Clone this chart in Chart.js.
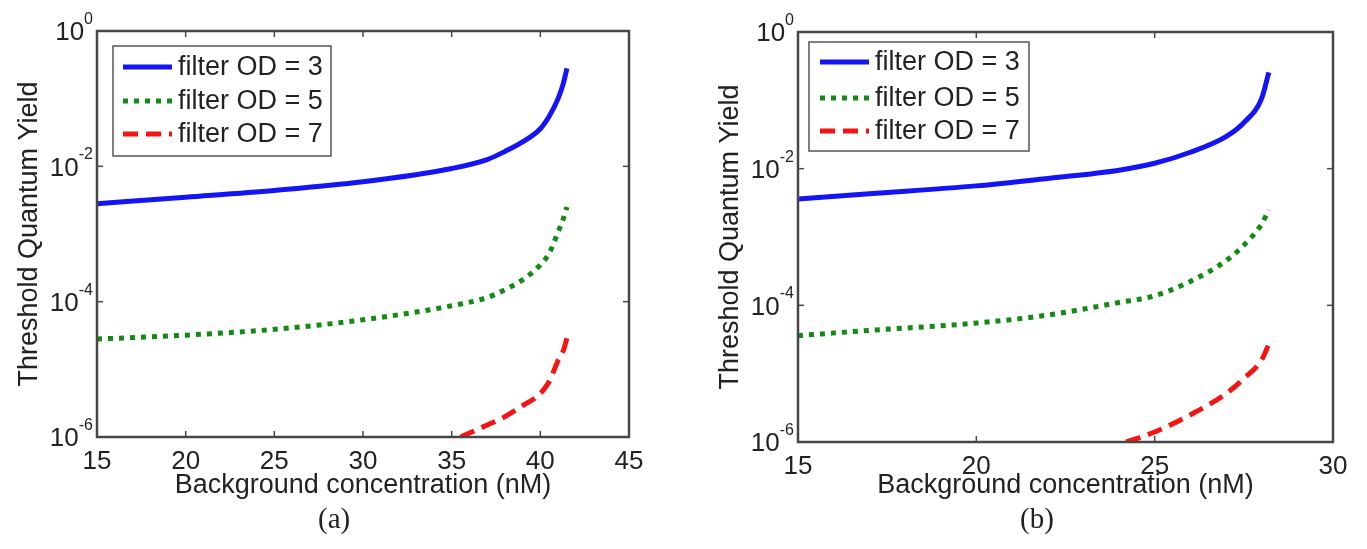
<!DOCTYPE html>
<html>
<head>
<meta charset="utf-8">
<script src="https://cdn.jsdelivr.net/npm/chart.js@4.4.0/dist/chart.umd.min.js"></script>
<style>
  body { margin: 0; background: #fff; width: 1367px; height: 549px; overflow: hidden; position: relative; }
  .panel { position: absolute; top: 0; height: 549px; }
  .cap { position: absolute; top: 502px; font-family: "Liberation Serif", "Times New Roman", serif; font-size: 29px; color: #222; }
</style>
</head>
<body>
<div class="panel" style="left:0;width:680px"><canvas id="chartA" width="680" height="549"></canvas></div>
<div class="panel" style="left:683px;width:684px"><canvas id="chartB" width="684" height="549"></canvas></div>
<div class="cap" style="left:318px">(a)</div>
<div class="cap" style="left:1020px">(b)</div>
<script>
// panel (a)
const xA = [15, 20, 25, 30, 35, 37, 38, 39, 40, 40.5, 41, 41.3, 41.5];
const od3A = [2.8e-3, 3.5e-3, 4.4e-3, 5.9e-3, 9.3e-3, 1.26e-2, 1.66e-2, 2.3e-2, 3.6e-2, 5.5e-2, 0.10, 0.17, 0.28];
const od5A = [2.8e-5, 3.2e-5, 3.9e-5, 5.4e-5, 8.7e-5, 1.15e-4, 1.5e-4, 2.1e-4, 3.5e-4, 5.2e-4, 1.07e-3, 1.7e-3, 2.5e-3];
const xRedA = [35.5, 37, 38, 39, 40, 40.5, 41, 41.3, 41.5];
const od7A = [1.0e-6, 1.5e-6, 2.0e-6, 2.9e-6, 4.4e-6, 6.6e-6, 1.35e-5, 1.9e-5, 2.9e-5];

// panel (b)
const xB = [15, 17, 20, 22, 24, 25, 26, 27, 27.5, 28, 28.2];
const od3B = [3.6e-3, 4.3e-3, 5.6e-3, 7.2e-3, 9.5e-3, 1.2e-2, 1.74e-2, 2.95e-2, 4.7e-2, 0.107, 0.257];
const od5B = [3.6e-5, 4.3e-5, 5.5e-5, 7.2e-5, 1.1e-4, 1.38e-4, 2.24e-4, 4.5e-4, 7.6e-4, 1.55e-3, 2.5e-3];
const xRedB = [24.2, 25, 26, 27, 27.5, 28, 28.2];
const od7B = [1.0e-6, 1.4e-6, 2.5e-6, 5.1e-6, 8.5e-6, 1.6e-5, 2.7e-5];

const yTicks = [1e-6, 1e-4, 1e-2, 1];
const yExponents = ["-6", "-4", "-2", "0"];
const legendLabels = ["filter OD = 3", "filter OD = 5", "filter OD = 7"];

const FONT = '"Liberation Sans", Arial, sans-serif';
const INK = "#222";

function pts(xs, ys) {
  return xs.map((x, i) => ({ x: x, y: ys[i] }));
}

// box, inward ticks, 10^n labels and in-plot legend, MATLAB style
const framePlugin = {
  id: "frame",
  afterDraw(chart, args, o) {
    const { ctx, chartArea: a, scales } = chart;
    const line = (x0, y0, x1, y1) => { ctx.beginPath(); ctx.moveTo(x0, y0); ctx.lineTo(x1, y1); ctx.stroke(); };
    ctx.save();
    ctx.strokeStyle = "#474747";
    ctx.lineWidth = 1.5;
    scales.x.ticks.forEach((t) => {
      const px = scales.x.getPixelForValue(t.value);
      line(px, a.bottom, px, a.bottom - 6);
      line(px, a.top, px, a.top + 6);
    });
    scales.y.ticks.forEach((t) => {
      const py = scales.y.getPixelForValue(t.value);
      line(a.left, py, a.left + 6, py);
      line(a.right, py, a.right - 6, py);
    });
    ctx.lineWidth = 2.5;
    ctx.strokeRect(a.left, a.top, a.right - a.left, a.bottom - a.top);

    // y tick labels with superscript exponents
    ctx.fillStyle = INK;
    ctx.textAlign = "left";
    yTicks.forEach((v, i) => {
      const py = scales.y.getPixelForValue(v);
      ctx.font = "16px " + FONT;
      const ew = ctx.measureText(yExponents[i]).width;
      ctx.font = "26px " + FONT;
      const bw = ctx.measureText("10").width;
      const xr = a.left - 4;
      ctx.textBaseline = "middle";
      ctx.fillText("10", xr - ew - bw, py + 2);
      ctx.font = "16px " + FONT;
      ctx.textBaseline = "alphabetic";
      ctx.fillText(yExponents[i], xr - ew, py - 7);
    });

    // legend
    const L = a.left + o.left, T = a.top + o.top;
    ctx.fillStyle = "#fff";
    ctx.fillRect(L, T, o.width, o.height);
    ctx.strokeStyle = "#555";
    ctx.lineWidth = 1.5;
    ctx.strokeRect(L, T, o.width, o.height);
    ctx.font = "27px " + FONT;
    ctx.textBaseline = "middle";
    chart.data.datasets.forEach((ds, i) => {
      const ry = T + o.rows[i];
      ctx.strokeStyle = ds.borderColor;
      ctx.lineWidth = ds.borderWidth;
      ctx.setLineDash(ds.borderDash || []);
      line(L + o.s0, ry, L + o.s1, ry);
      ctx.setLineDash([]);
      ctx.fillStyle = INK;
      ctx.fillText(ds.label, L + o.tx, ry + 1);
    });
    ctx.restore();
  }
};

function makeChart(id, cfg) {
  new Chart(document.getElementById(id), {
    type: "line",
    data: {
      datasets: [
        { label: legendLabels[0], data: pts(cfg.x, cfg.od3), borderColor: "#1414f5", borderWidth: 5 },
        { label: legendLabels[1], data: pts(cfg.x, cfg.od5), borderColor: "#148a14", borderWidth: 5, borderDash: [5, 6] },
        { label: legendLabels[2], data: pts(cfg.xRed, cfg.od7), borderColor: "#f51414", borderWidth: 5, borderDash: [15, 8] }
      ]
    },
    options: {
      responsive: false,
      animation: false,
      layout: { padding: { left: cfg.padLeft, top: cfg.top, right: cfg.padRight, bottom: 0 } },
      elements: { point: { radius: 0 }, line: { cubicInterpolationMode: "monotone", borderCapStyle: "butt" } },
      plugins: {
        legend: { display: false },
        tooltip: { enabled: false },
        frame: cfg.legend
      },
      scales: {
        x: {
          type: "linear",
          min: cfg.xMin, max: cfg.xMax,
          ticks: { stepSize: 5, color: INK, font: { family: FONT, size: 26 }, padding: 1, maxRotation: 0 },
          grid: { display: false },
          border: { display: false },
          title: { display: true, text: "Background concentration (nM)", color: INK, font: { family: FONT, size: 27 }, padding: { top: 0, bottom: 47 } },
          afterFit: (s) => { s.height = 549 - cfg.bottom; }
        },
        y: {
          type: "logarithmic",
          min: 1e-6, max: 1,
          afterBuildTicks: (s) => { s.ticks = yTicks.map((v) => ({ value: v })); },
          ticks: { display: false },
          grid: { display: false },
          border: { display: false },
          title: { display: true, text: "Threshold Quantum Yield", color: INK, font: { family: FONT, size: 27 }, padding: 0 },
          afterFit: (s) => { s.width = cfg.left - cfg.padLeft; }
        }
      }
    },
    plugins: [framePlugin]
  });
}

makeChart("chartA", {
  x: xA, od3: od3A, od5: od5A, xRed: xRedA, od7: od7A,
  xMin: 15, xMax: 45,
  padLeft: 13, left: 97, top: 31, padRight: 680 - 629, bottom: 437,
  legend: { left: 16, top: 15, width: 218, height: 110, rows: [21, 55, 88], s0: 10, s1: 59, tx: 65 }
});

makeChart("chartB", {
  x: xB, od3: od3B, od5: od5B, xRed: xRedB, od7: od7B,
  xMin: 15, xMax: 30,
  padLeft: 31, left: 798 - 683, top: 32, padRight: 684 - (1333 - 683), bottom: 442,
  legend: { left: 11, top: 10, width: 220, height: 109, rows: [20, 56, 89], s0: 11, s1: 60, tx: 66 }
});
</script>
</body>
</html>
